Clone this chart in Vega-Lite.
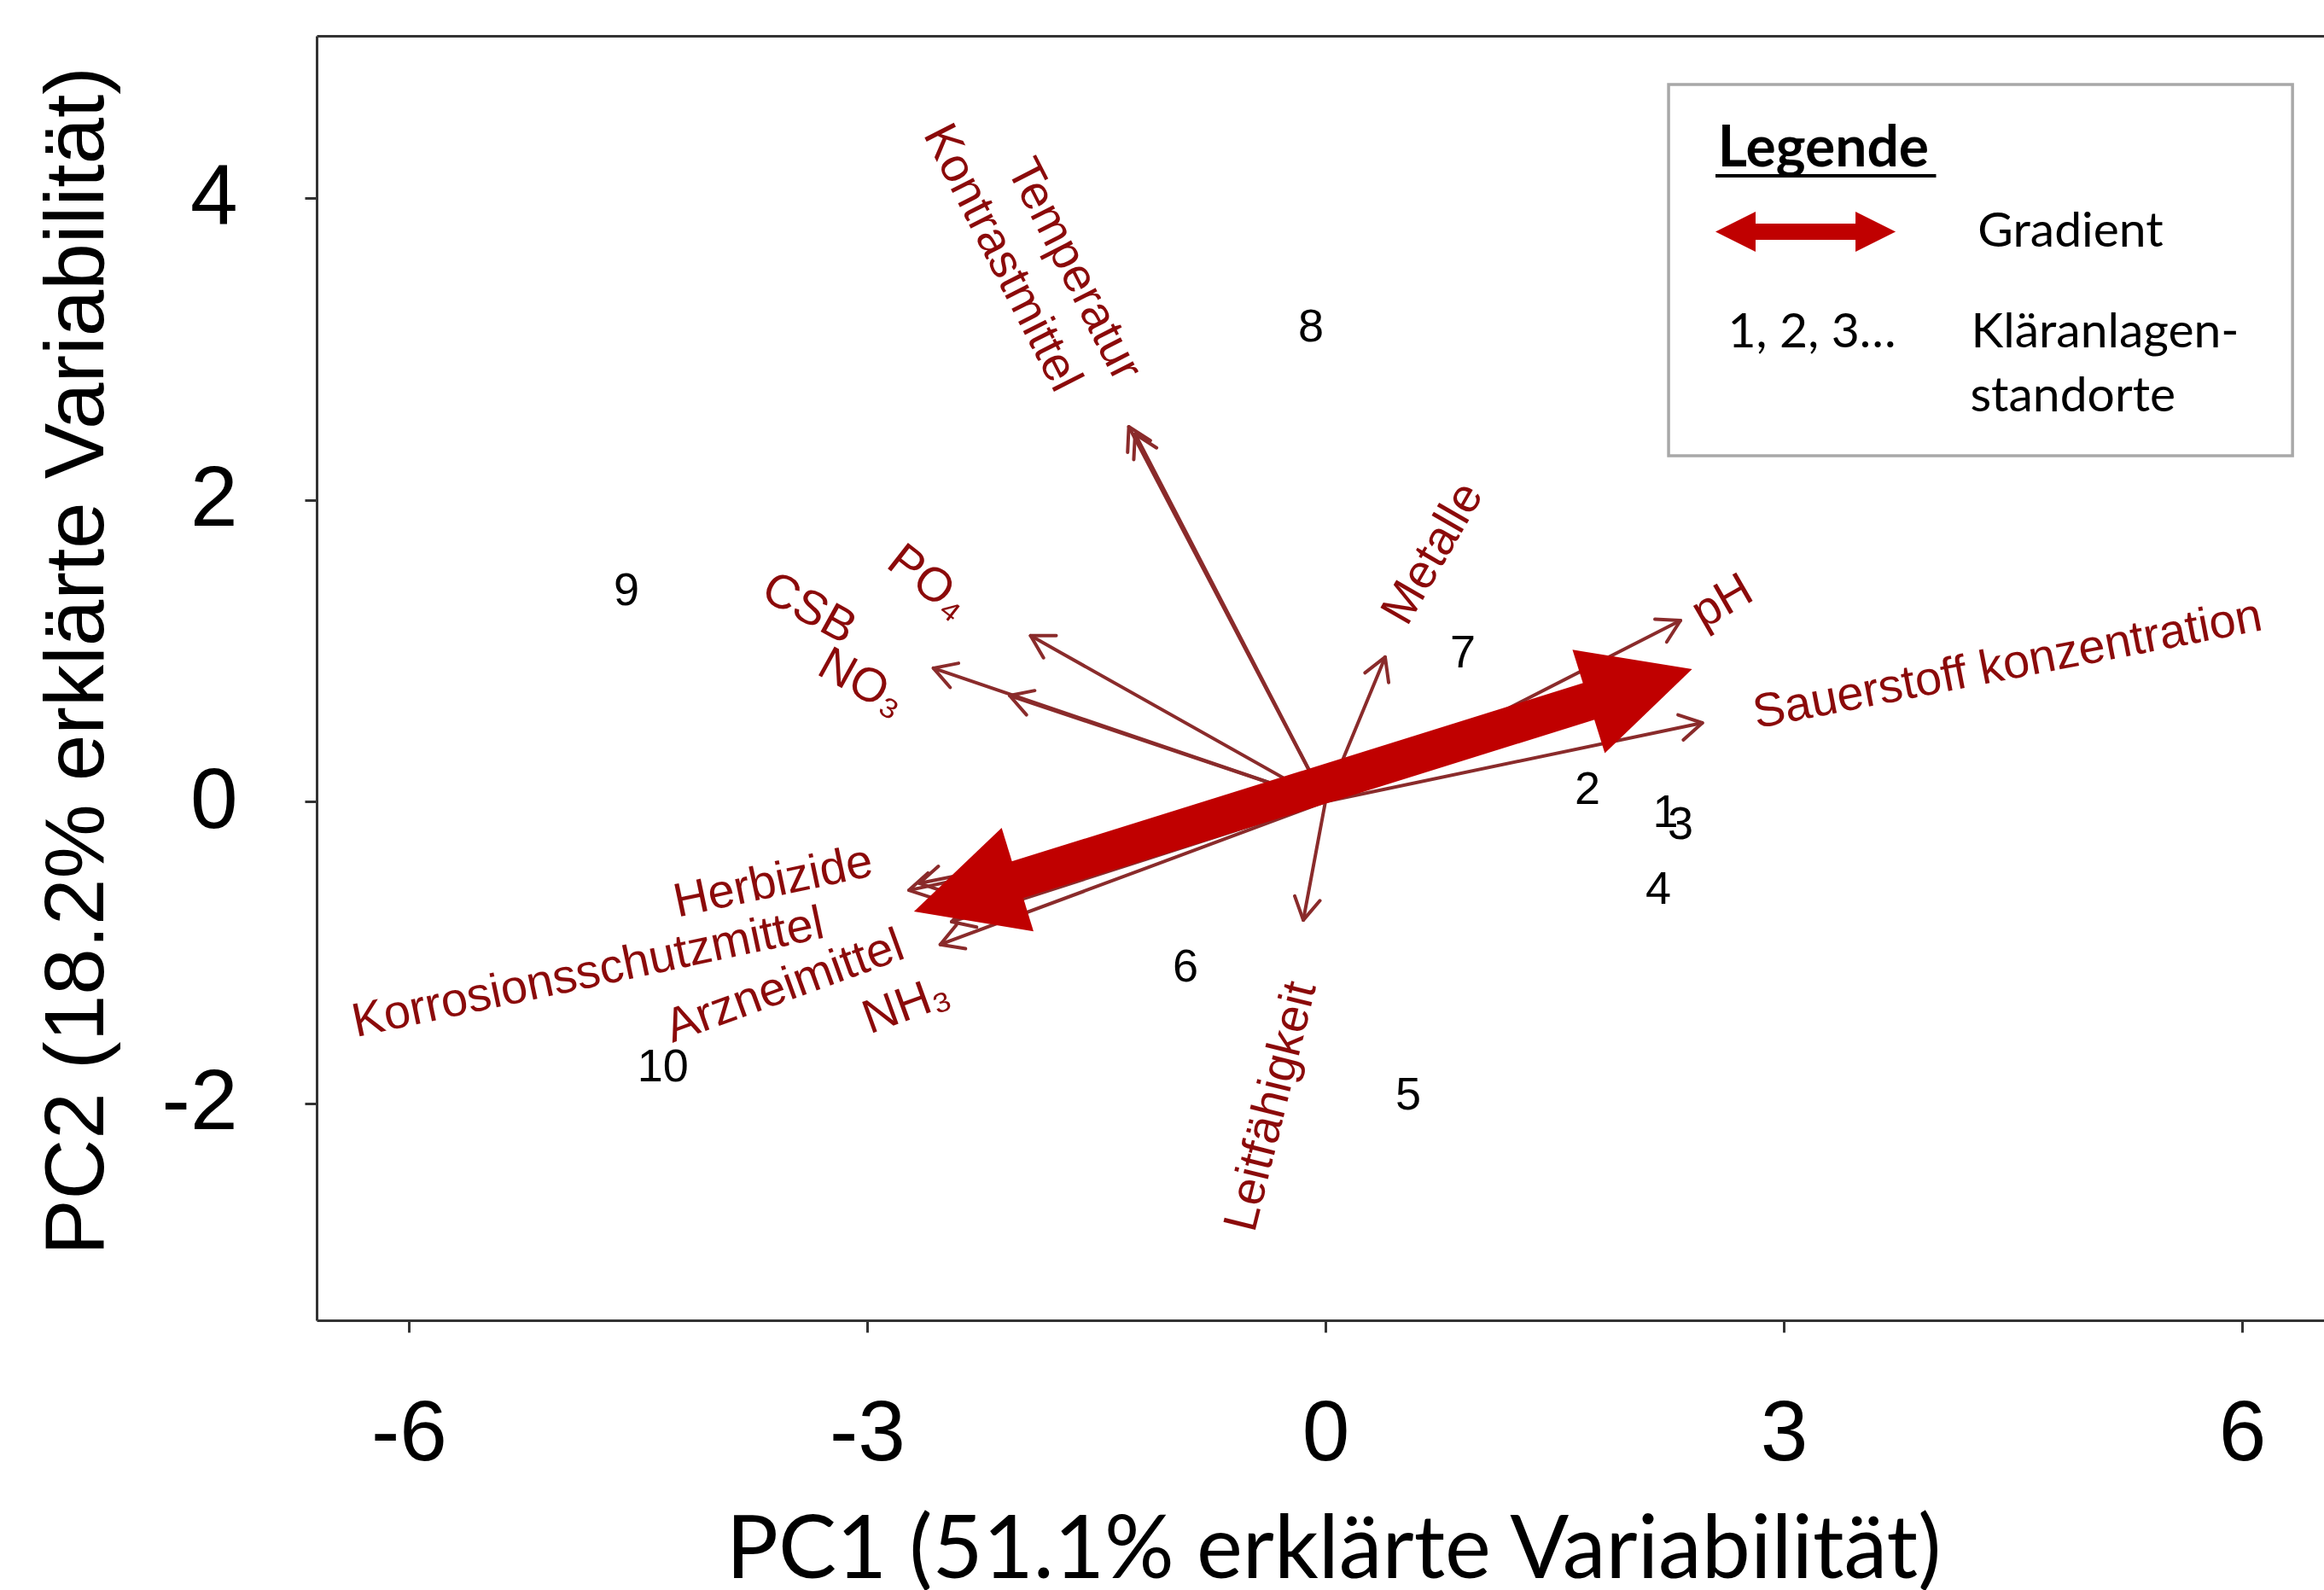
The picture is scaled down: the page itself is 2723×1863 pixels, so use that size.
{
  "$schema": "https://vega.github.io/schema/vega-lite/v6.json",
  "width": 2352,
  "height": 1505,
  "autosize": {"type": "none"},
  "padding": {"left": 371, "top": 42, "right": 0, "bottom": 316},
  "background": "white",
  "config": {
    "view": {"stroke": null},
    "axis": {
      "grid": false,
      "domain": true,
      "domainColor": "#333333",
      "domainWidth": 3,
      "tickColor": "#333333",
      "tickWidth": 3,
      "tickSize": 14,
      "labelColor": "#000000",
      "labelFont": "Liberation Sans",
      "labelFontSize": 100,
      "titleColor": "#000000",
      "titleFontWeight": "normal"
    }
  },
  "datasets": {
    "loadings": [
      {"var": "Temperatur", "x": -1.287, "y": 2.486},
      {"var": "Kontrastmittel", "x": -1.246, "y": 2.438},
      {"var": "PO4", "x": -1.93, "y": 1.10},
      {"var": "CSB", "x": -2.566, "y": 0.885},
      {"var": "NO3", "x": -2.067, "y": 0.703},
      {"var": "Metalle", "x": 0.391, "y": 0.958},
      {"var": "pH", "x": 2.324, "y": 1.201},
      {"var": "Sauerstoffkonzentration", "x": 2.467, "y": 0.522},
      {"var": "Leitfähigkeit", "x": -0.145, "y": -0.786},
      {"var": "Herbizide", "x": -2.659, "y": -0.542},
      {"var": "Korrosionsschutzmittel", "x": -2.726, "y": -0.588},
      {"var": "Arzneimittel", "x": -2.521, "y": -0.948},
      {"var": "NH3", "x": -2.447, "y": -0.797}
    ],
    "labels": [
      {"label": "Temperatur", "x": -1.645, "y": 3.527},
      {"label": "Kontrastmittel", "x": -2.117, "y": 3.606},
      {"label": "PO₄", "x": -2.598, "y": 1.456},
      {"label": "CSB", "x": -3.38, "y": 1.28},
      {"label": "NO₃", "x": -3.034, "y": 0.788},
      {"label": "Metalle", "x": 0.704, "y": 1.645},
      {"label": "pH", "x": 2.598, "y": 1.326},
      {"label": "Sauerstoff konzentration", "x": 4.464, "y": 0.907},
      {"label": "Leitfähigkeit", "x": -0.355, "y": -2.022},
      {"label": "Herbizide", "x": -3.615, "y": -0.534},
      {"label": "Korrosionsschutzmittel", "x": -4.827, "y": -1.137},
      {"label": "Arzneimittel", "x": -3.539, "y": -1.227},
      {"label": "NH₃", "x": -2.743, "y": -1.352}
    ],
    "sites": [
      {"site": "1", "x": 2.226, "y": -0.078},
      {"site": "2", "x": 1.715, "y": 0.075},
      {"site": "3", "x": 2.324, "y": -0.16},
      {"site": "4", "x": 2.179, "y": -0.585},
      {"site": "5", "x": 0.542, "y": -1.952},
      {"site": "6", "x": -0.916, "y": -1.104},
      {"site": "7", "x": 0.899, "y": 0.978},
      {"site": "8", "x": -0.095, "y": 3.145},
      {"site": "9", "x": -4.575, "y": 1.391},
      {"site": "10", "x": -4.336, "y": -1.762}
    ],
    "gradientShaft": [{"x": -2.128, "y": -0.554, "x2": 1.827, "y2": 0.697}],
    "gradientHeads": [
      {"end": "left", "x": -2.693, "y": -0.729},
      {"end": "right", "x": 2.4, "y": 0.878}
    ],
    "legendBox": [{"x": 2.246, "x2": 6.33, "y": 4.756, "y2": 2.294}],
    "legendUnderline": [{"x": 2.553, "x2": 3.997, "y": 4.15}],
    "legendTitle": [{"text": "Legende", "x": 2.569, "y": 4.212}],
    "legendText": [
      {"text": "Gradient", "x": 4.27, "y": 3.679},
      {"text": "1, 2, 3…", "x": 2.634, "y": 3.014},
      {"text": "Kläranlagen-", "x": 4.226, "y": 3.014},
      {"text": "standorte", "x": 4.22, "y": 2.59}
    ],
    "legendShaft": [{"x": 2.76, "x2": 3.525, "y": 3.779}],
    "legendHeads": [
      {"end": "left", "x": 2.553, "y": 3.779},
      {"end": "right", "x": 3.732, "y": 3.779}
    ]
  },
  "layer": [
    {
      "data": {"name": "loadings"},
      "mark": {"type": "rule", "color": "#8a2b2b", "strokeWidth": 4, "strokeCap": "round"},
      "encoding": {
        "x": {
          "field": "x", "type": "quantitative",
          "scale": {"domain": [-6.603, 6.536], "nice": false, "zero": false},
          "axis": {
            "orient": "bottom", "values": [-6, -3, 0, 3, 6], "labelExpr": "'' + datum.value",
            "labelPadding": 70, "labelFlush": false, "labelOverlap": false,
            "title": "PC1 (51.1% erklärte Variabilität)", "titleFont": "Lato", "titleFontSize": 102,
            "titleX": 1191, "titleY": 301, "titleAlign": "center", "titleBaseline": "alphabetic"
          }
        },
        "y": {
          "field": "y", "type": "quantitative",
          "scale": {"domain": [-3.44, 5.078], "nice": false, "zero": false},
          "axis": {
            "orient": "left", "values": [-2, 0, 2, 4], "labelExpr": "'' + datum.value",
            "labelPadding": 79, "labelFlush": false, "labelOverlap": false,
            "title": "PC2 (18.2% erklärte Variabilität)", "titleFont": "Liberation Sans", "titleFontSize": 98,
            "titleX": -250.5, "titleY": 732, "titleAngle": -90, "titleAlign": "center", "titleBaseline": "alphabetic"
          }
        },
        "x2": {"datum": 0},
        "y2": {"datum": 0}
      }
    },
    {
      "data": {"name": "loadings"},
      "transform": [{"calculate": "-atan2(datum.y, datum.x) * 180 / PI", "as": "ang"}],
      "mark": {"type": "point", "shape": "M-1.732,-1L0,0L-1.732,1", "filled": false, "size": 900, "stroke": "#8a2b2b", "strokeWidth": 4, "strokeJoin": "round", "strokeCap": "round", "opacity": 1},
      "encoding": {
        "x": {"field": "x", "type": "quantitative", "axis": {"orient": "top", "labels": false, "ticks": false, "title": null, "domain": true}},
        "y": {"field": "y", "type": "quantitative"},
        "angle": {"field": "ang", "type": "quantitative", "scale": null}
      }
    },
    {
      "data": {"name": "labels"},
      "transform": [{"filter": {"field": "label", "oneOf": ["Temperatur", "Kontrastmittel"]}}],
      "mark": {"type": "text", "angle": 63, "font": "Liberation Sans", "fontSize": 56, "color": "#8b0a0a", "align": "center", "baseline": "middle"},
      "encoding": {"x": {"field": "x", "type": "quantitative", "axis": null}, "y": {"field": "y", "type": "quantitative"}, "text": {"field": "label"}}
    },
    {
      "data": {"name": "labels"},
      "transform": [{"filter": {"field": "label", "oneOf": ["PO₄"]}}],
      "mark": {"type": "text", "angle": 38, "font": "Liberation Sans", "fontSize": 56, "color": "#8b0a0a", "align": "center", "baseline": "middle"},
      "encoding": {"x": {"field": "x", "type": "quantitative", "axis": null}, "y": {"field": "y", "type": "quantitative"}, "text": {"field": "label"}}
    },
    {
      "data": {"name": "labels"},
      "transform": [{"filter": {"field": "label", "oneOf": ["CSB", "NO₃"]}}],
      "mark": {"type": "text", "angle": 29, "font": "Liberation Sans", "fontSize": 56, "color": "#8b0a0a", "align": "center", "baseline": "middle"},
      "encoding": {"x": {"field": "x", "type": "quantitative", "axis": null}, "y": {"field": "y", "type": "quantitative"}, "text": {"field": "label"}}
    },
    {
      "data": {"name": "labels"},
      "transform": [{"filter": {"field": "label", "oneOf": ["Metalle"]}}],
      "mark": {"type": "text", "angle": -60, "font": "Liberation Sans", "fontSize": 56, "color": "#8b0a0a", "align": "center", "baseline": "middle"},
      "encoding": {"x": {"field": "x", "type": "quantitative", "axis": null}, "y": {"field": "y", "type": "quantitative"}, "text": {"field": "label"}}
    },
    {
      "data": {"name": "labels"},
      "transform": [{"filter": {"field": "label", "oneOf": ["pH"]}}],
      "mark": {"type": "text", "angle": -30, "font": "Liberation Sans", "fontSize": 56, "color": "#8b0a0a", "align": "center", "baseline": "middle"},
      "encoding": {"x": {"field": "x", "type": "quantitative", "axis": null}, "y": {"field": "y", "type": "quantitative"}, "text": {"field": "label"}}
    },
    {
      "data": {"name": "labels"},
      "transform": [{"filter": {"field": "label", "oneOf": ["Sauerstoff konzentration"]}}],
      "mark": {"type": "text", "angle": -11, "font": "Liberation Sans", "fontSize": 56, "color": "#8b0a0a", "align": "center", "baseline": "middle"},
      "encoding": {"x": {"field": "x", "type": "quantitative", "axis": null}, "y": {"field": "y", "type": "quantitative"}, "text": {"field": "label"}}
    },
    {
      "data": {"name": "labels"},
      "transform": [{"filter": {"field": "label", "oneOf": ["Leitfähigkeit"]}}],
      "mark": {"type": "text", "angle": -76, "font": "Liberation Sans", "fontSize": 56, "color": "#8b0a0a", "align": "center", "baseline": "middle"},
      "encoding": {"x": {"field": "x", "type": "quantitative", "axis": null}, "y": {"field": "y", "type": "quantitative"}, "text": {"field": "label"}}
    },
    {
      "data": {"name": "labels"},
      "transform": [{"filter": {"field": "label", "oneOf": ["Herbizide", "Korrosionsschutzmittel"]}}],
      "mark": {"type": "text", "angle": -12, "font": "Liberation Sans", "fontSize": 56, "color": "#8b0a0a", "align": "center", "baseline": "middle"},
      "encoding": {"x": {"field": "x", "type": "quantitative", "axis": null}, "y": {"field": "y", "type": "quantitative"}, "text": {"field": "label"}}
    },
    {
      "data": {"name": "labels"},
      "transform": [{"filter": {"field": "label", "oneOf": ["Arzneimittel", "NH₃"]}}],
      "mark": {"type": "text", "angle": -20, "font": "Liberation Sans", "fontSize": 56, "color": "#8b0a0a", "align": "center", "baseline": "middle"},
      "encoding": {"x": {"field": "x", "type": "quantitative", "axis": null}, "y": {"field": "y", "type": "quantitative"}, "text": {"field": "label"}}
    },
    {
      "data": {"name": "sites"},
      "mark": {"type": "text", "font": "Liberation Sans", "fontSize": 54, "color": "#000000", "align": "center", "baseline": "middle"},
      "encoding": {"x": {"field": "x", "type": "quantitative", "axis": null}, "y": {"field": "y", "type": "quantitative"}, "text": {"field": "site"}}
    },
    {
      "data": {"name": "gradientShaft"},
      "mark": {"type": "rule", "color": "#c00000", "strokeWidth": 45, "strokeCap": "butt"},
      "encoding": {
        "x": {"field": "x", "type": "quantitative", "axis": null},
        "y": {"field": "y", "type": "quantitative"},
        "x2": {"field": "x2"},
        "y2": {"field": "y2"}
      }
    },
    {
      "data": {"name": "gradientHeads"},
      "transform": [{"filter": {"field": "end", "equal": "left"}}],
      "mark": {"type": "point", "shape": "M0,0L-2,-1L-2,1Z", "filled": true, "color": "#c00000", "size": 16129, "angle": 162.9, "opacity": 1, "strokeWidth": 0},
      "encoding": {"x": {"field": "x", "type": "quantitative", "axis": null}, "y": {"field": "y", "type": "quantitative"}}
    },
    {
      "data": {"name": "gradientHeads"},
      "transform": [{"filter": {"field": "end", "equal": "right"}}],
      "mark": {"type": "point", "shape": "M0,0L-2,-1L-2,1Z", "filled": true, "color": "#c00000", "size": 16129, "angle": -17.35, "opacity": 1, "strokeWidth": 0},
      "encoding": {"x": {"field": "x", "type": "quantitative", "axis": null}, "y": {"field": "y", "type": "quantitative"}}
    },
    {
      "data": {"name": "legendBox"},
      "mark": {"type": "rect", "fill": "#ffffff", "stroke": "#a8a8a8", "strokeWidth": 3.5},
      "encoding": {
        "x": {"field": "x", "type": "quantitative", "axis": null},
        "x2": {"field": "x2"},
        "y": {"field": "y", "type": "quantitative"},
        "y2": {"field": "y2"}
      }
    },
    {
      "data": {"name": "legendUnderline"},
      "mark": {"type": "rule", "color": "#000000", "strokeWidth": 4},
      "encoding": {
        "x": {"field": "x", "type": "quantitative", "axis": null},
        "x2": {"field": "x2"},
        "y": {"field": "y", "type": "quantitative"}
      }
    },
    {
      "data": {"name": "legendTitle"},
      "mark": {"type": "text", "font": "Lato", "fontSize": 66, "fontWeight": "bold", "color": "#000000", "align": "left", "baseline": "alphabetic"},
      "encoding": {"x": {"field": "x", "type": "quantitative", "axis": null}, "y": {"field": "y", "type": "quantitative"}, "text": {"field": "text"}}
    },
    {
      "data": {"name": "legendText"},
      "mark": {"type": "text", "font": "Lato", "fontSize": 57, "color": "#000000", "align": "left", "baseline": "alphabetic"},
      "encoding": {"x": {"field": "x", "type": "quantitative", "axis": null}, "y": {"field": "y", "type": "quantitative"}, "text": {"field": "text"}}
    },
    {
      "data": {"name": "legendShaft"},
      "mark": {"type": "rule", "color": "#c00000", "strokeWidth": 19, "strokeCap": "butt"},
      "encoding": {
        "x": {"field": "x", "type": "quantitative", "axis": null},
        "x2": {"field": "x2"},
        "y": {"field": "y", "type": "quantitative"}
      }
    },
    {
      "data": {"name": "legendHeads"},
      "transform": [{"filter": {"field": "end", "equal": "left"}}],
      "mark": {"type": "point", "shape": "M0,0L-2,-1L-2,1Z", "filled": true, "color": "#c00000", "size": 2209, "angle": 180, "opacity": 1, "strokeWidth": 0},
      "encoding": {"x": {"field": "x", "type": "quantitative", "axis": null}, "y": {"field": "y", "type": "quantitative"}}
    },
    {
      "data": {"name": "legendHeads"},
      "transform": [{"filter": {"field": "end", "equal": "right"}}],
      "mark": {"type": "point", "shape": "M0,0L-2,-1L-2,1Z", "filled": true, "color": "#c00000", "size": 2209, "angle": 0, "opacity": 1, "strokeWidth": 0},
      "encoding": {"x": {"field": "x", "type": "quantitative", "axis": null}, "y": {"field": "y", "type": "quantitative"}}
    }
  ]
}
